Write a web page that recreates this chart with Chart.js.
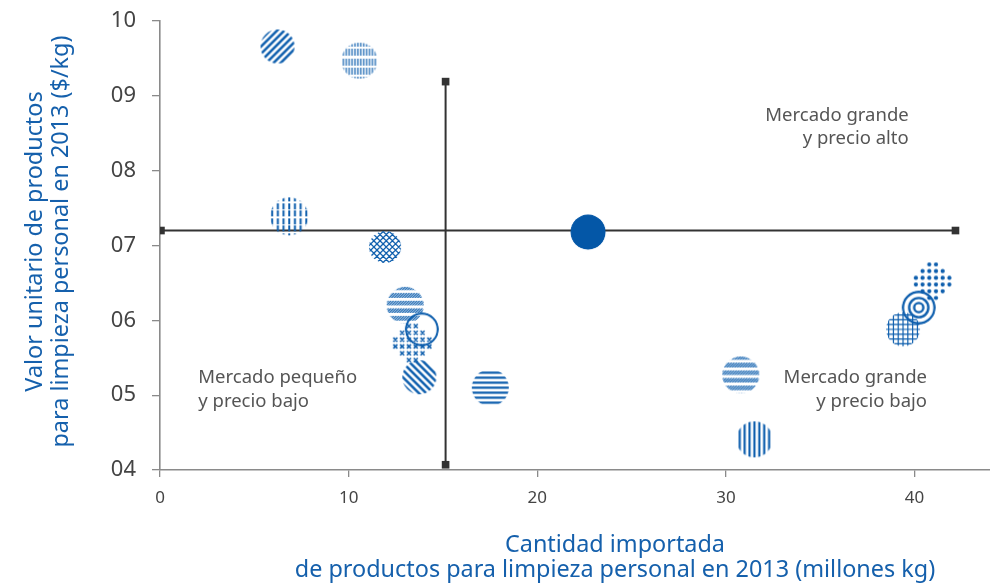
<!DOCTYPE html>
<html><head><meta charset="utf-8">
<style>html,body{margin:0;padding:0;background:#fff}#wrap{width:990px;height:583px;position:relative}</style>
<script src="https://cdn.jsdelivr.net/npm/chart.js@4/dist/chart.umd.min.js"></script>
</head><body><div id="wrap"><canvas id="c" width="990" height="583"></canvas></div>
<script>
// ---------- DATA ----------
const pointX = [6.23, 10.57, 6.85, 11.93, 13.0, 13.4, 13.88, 13.75, 17.51, 30.79, 31.51, 40.97, 39.39, 40.22, 22.69];
const pointY = [9.66, 9.47, 7.39, 6.98, 6.20, 5.69, 5.88, 5.24, 5.10, 5.27, 4.41, 6.52, 5.88, 6.17, 7.18];
const hLineY = 7.2;          // average price
const hLineX = [0.05, 42.17];
const vLineX = 15.14;        // average quantity
const vLineY = [4.07, 9.19];
const xTicks = [0, 10, 20, 30, 40];
const yTicks = [4, 5, 6, 7, 8, 9, 10];
const annotLines = [["Mercado grande", "y precio alto"], ["Mercado pequeño", "y precio bajo"], ["Mercado grande", "y precio bajo"]];
const annotX = [39.69, 2.03, 40.66];
const annotY = [8.668, 5.159, 5.159];
const xTitle = ["Cantidad importada", "de productos para limpieza personal en 2013 (millones kg)"];
const yTitle = ["Valor unitario de productos", "para limpieza personal en 2013 ($/kg)"];

// ---------- STYLES ----------
const markerStyles = ['diagUp','vdashFine','vdashThick','crossDiag','bandHatch','crosses','ring','diagDown','hstripes','bandHatch','vstripes','dots','grid','concentric','solid'];
const markerRadius = {diagUp:17, vdashFine:18, vdashThick:19, crossDiag:16, bandHatch:18.5, crosses:22, ring:17, diagDown:17, hstripes:18.5, vstripes:18, dots:22, grid:17, concentric:17, solid:17.7};
const BLUE = '#0d5ead';
const FONT = '"Noto Sans", sans-serif';

function makeMarker(type){
  const r = markerRadius[type];
  const size = Math.ceil(2*r) + 4;
  const c = document.createElement('canvas'); c.width = c.height = size;
  const g = c.getContext('2d'); const cx = size/2, cy = size/2;
  g.strokeStyle = BLUE; g.fillStyle = BLUE;
  g.save(); g.beginPath(); g.arc(cx, cy, r, 0, Math.PI*2); g.clip();
  switch(type){
    case 'diagUp': case 'diagDown': {
      g.lineWidth = 2.5; g.beginPath();
      for (let k = -size; k < 2*size; k += 7.2){
        if (type === 'diagUp'){ g.moveTo(k, size); g.lineTo(k+size, 0); }
        else { g.moveTo(k, 0); g.lineTo(k+size, size); }
      }
      g.stroke(); break; }
    case 'crossDiag': {
      g.lineWidth = 1.3; g.beginPath();
      for (let k = -size; k < 2*size; k += 6.2){ g.moveTo(k, size); g.lineTo(k+size, 0); g.moveTo(k, 0); g.lineTo(k+size, size); }
      g.stroke(); break; }
    case 'hstripes': {
      for (let y = cy - 20; y < size; y += 5) g.fillRect(0, y-1.1, size, 2.2);
      break; }
    case 'vstripes': {
      for (let x = cx - 19.6; x < size; x += 4.9) g.fillRect(x-1.1, 0, 2.2, size);
      break; }
    case 'vdashFine': {
      for (let x = 0.5; x < size; x += 2.9) g.fillRect(x, 0, 1.2, size);
      for (let y = cy - 14; y < size; y += 9.3) g.clearRect(0, y, size, 2.4);
      break; }
    case 'vdashThick': {
      for (let x = cx - 17.1; x < size; x += 5.7) g.fillRect(x-1, 0, 2, size);
      for (let y = cy - 15; y < size; y += 7.5) g.clearRect(0, y, size, 1.6);
      break; }
    case 'bandHatch': {
      for (let y0 = cy - 20; y0 < size; y0 += 7.6){
        g.save(); g.beginPath(); g.rect(0, y0, size, 4.8); g.clip();
        g.lineWidth = 1.2; g.beginPath();
        for (let k = -10; k < size + 10; k += 2.6){ g.moveTo(k, y0+6); g.lineTo(k+6, y0); }
        g.stroke(); g.restore();
      }
      break; }
    case 'crosses': {
      g.lineWidth = 1.6; g.beginPath();
      for (let gx = cx - 17.5; gx < size; gx += 6.8)
        for (let gy = cy - 17.5; gy < size; gy += 6.8){
          if (Math.hypot(gx-cx, gy-cy) > 19) continue;
          g.moveTo(gx-2, gy-2); g.lineTo(gx+2, gy+2); g.moveTo(gx+2, gy-2); g.lineTo(gx-2, gy+2);
        }
      g.stroke(); break; }
    case 'dots': {
      for (let gx = cx - 17; gx < size; gx += 6.7)
        for (let gy = cy - 17; gy < size; gy += 6.7){
          if (Math.hypot(gx-cx, gy-cy) > 18.5) continue;
          g.beginPath(); g.arc(gx, gy, 2.1, 0, Math.PI*2); g.fill();
        }
      break; }
    case 'grid': {
      g.lineWidth = 1.2; g.beginPath();
      for (let k = cx - 19.2; k < size; k += 4.8){ g.moveTo(k, 0); g.lineTo(k, size); g.moveTo(0, k); g.lineTo(size, k); }
      g.stroke(); break; }
    case 'ring': {
      g.lineWidth = 2.2; g.beginPath(); g.arc(cx, cy, r-1.1, 0, Math.PI*2); g.stroke(); break; }
    case 'concentric': {
      g.lineWidth = 2.4;
      [r-1.2, 9.6, 4.6].forEach(rr => { g.beginPath(); g.arc(cx, cy, rr, 0, Math.PI*2); g.stroke(); });
      break; }
    case 'solid': {
      g.fillStyle = '#0457a7'; g.beginPath(); g.arc(cx, cy, r, 0, Math.PI*2); g.fill(); break; }
  }
  g.restore();
  return c;
}

const markerImages = markerStyles.map(makeMarker);
const markerData = pointX.map((x, i) => ({x, y: pointY[i]}));

const textPlugin = {
  id: 'texts',
  afterDraw(chart){
    const ctx = chart.ctx, xs = chart.scales.x, ys = chart.scales.y;
    ctx.save();
    // annotations
    ctx.fillStyle = '#555'; ctx.font = '18.5px ' + FONT; ctx.textBaseline = 'alphabetic';
    annotLines.forEach((lines, i) => {
      ctx.textAlign = i === 1 ? 'left' : 'right';
      const px = xs.getPixelForValue(annotX[i]), py = ys.getPixelForValue(annotY[i]);
      lines.forEach((t, j) => ctx.fillText(t, px, py + j*23.5));
    });
    // axis titles
    ctx.fillStyle = '#1560ac'; ctx.font = '23.4px ' + FONT; ctx.textAlign = 'center';
    ctx.fillText(xTitle[0], 615, 552);
    ctx.fillText(xTitle[1], 615, 577);
    ctx.translate(42, 241.5); ctx.rotate(-Math.PI/2);
    ctx.fillText(yTitle[0], 0, 0);
    ctx.fillText(yTitle[1], 0, 26);
    ctx.restore();
  }
};

function zeroPad(s){ s.paddingLeft = 0; s.paddingRight = 0; s.paddingTop = 0; s.paddingBottom = 0; }

new Chart(document.getElementById('c'), {
  type: 'scatter',
  data: { datasets: [
    { data: markerData, pointStyle: markerImages, pointRadius: 18, showLine: false },
    { type: 'line', data: [{x: hLineX[0], y: hLineY}, {x: hLineX[1], y: hLineY}], borderColor: '#333', borderWidth: 2,
      pointStyle: 'rect', pointRadius: 5.4, pointBackgroundColor: '#333', pointBorderWidth: 0 },
    { type: 'line', data: [{x: vLineX, y: vLineY[0]}, {x: vLineX, y: vLineY[1]}], borderColor: '#333', borderWidth: 2,
      pointStyle: 'rect', pointRadius: 5.4, pointBackgroundColor: '#333', pointBorderWidth: 0 }
  ]},
  options: {
    responsive: false, animation: false, devicePixelRatio: 1, events: [],
    layout: { autoPadding: false, padding: { top: 21, right: 0, left: 0, bottom: 0 } },
    plugins: { legend: { display: false }, tooltip: { enabled: false } },
    scales: {
      x: { type: 'linear', min: 0, max: 44,
        afterBuildTicks: s => { s.ticks = xTicks.map(v => ({value: v})); },
        ticks: { color: '#444', font: { family: FONT, size: 17 }, padding: 11, callback: v => String(v) },
        grid: { display: true, drawOnChartArea: false, drawTicks: true, tickLength: 7, color: '#8a8a8a', lineWidth: 1.3 },
        border: { display: true, color: '#8a8a8a', width: 1.6 },
        afterFit: s => { s.height = 113; zeroPad(s); } },
      y: { type: 'linear', min: 4, max: 10,
        afterBuildTicks: s => { s.ticks = yTicks.map(v => ({value: v})); },
        ticks: { color: '#444', font: { family: FONT, size: 22 }, padding: 16, callback: v => String(v).padStart(2, '0') },
        grid: { display: true, drawOnChartArea: false, drawTicks: true, tickLength: 8, color: '#8a8a8a', lineWidth: 1.3 },
        border: { display: true, color: '#8a8a8a', width: 1.6 },
        afterFit: s => { s.width = 160; zeroPad(s); } }
    }
  },
  plugins: [textPlugin]
});
</script>
</body></html>
